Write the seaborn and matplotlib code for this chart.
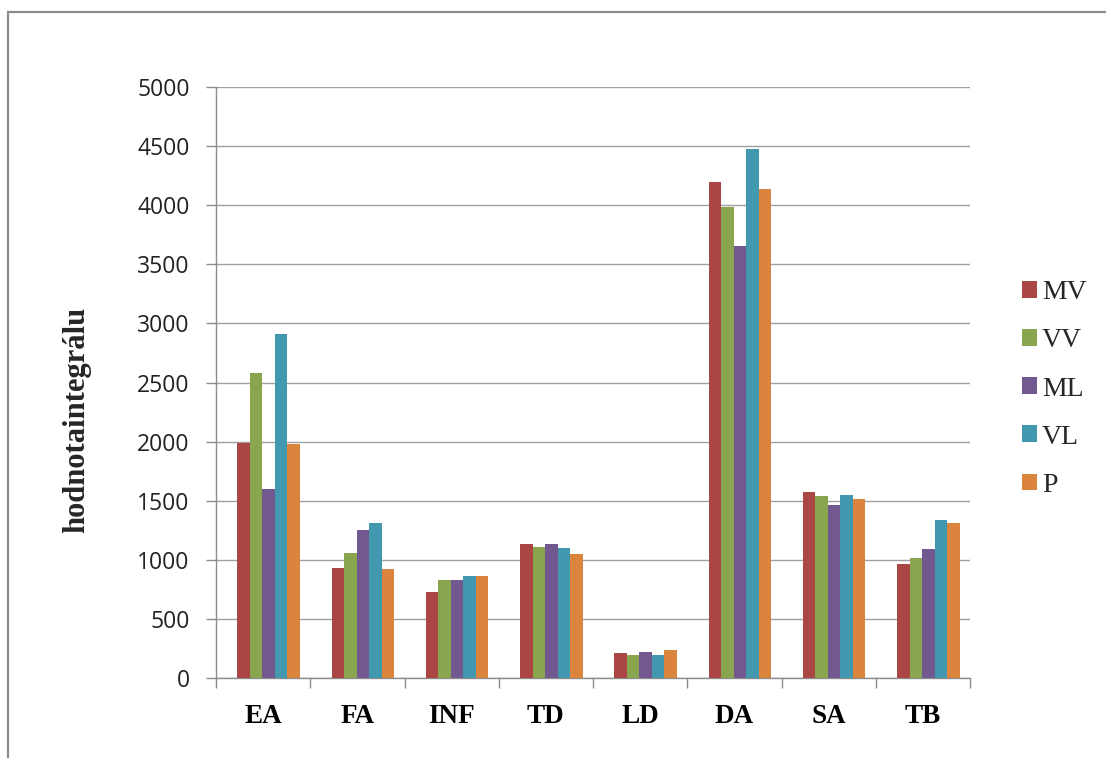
import numpy as np
import pandas as pd
import matplotlib
matplotlib.use("Agg")
import matplotlib.pyplot as plt
from matplotlib.patches import Rectangle
import seaborn as sns

categories = ["EA", "FA", "INF", "TD", "LD", "DA", "SA", "TB"]
series = ["MV", "VV", "ML", "VL", "P"]
mv = [1988, 928, 730, 1131, 210, 4198, 1571, 964]
vv = [2578, 1055, 829, 1111, 198, 3982, 1540, 1016]
ml = [1599, 1252, 829, 1131, 220, 3656, 1463, 1093]
vl = [2910, 1308, 860, 1097, 198, 4472, 1552, 1334]
p = [1977, 920, 860, 1046, 240, 4136, 1518, 1312]
y_ticks = [0, 500, 1000, 1500, 2000, 2500, 3000, 3500, 4000, 4500, 5000]
y_label = "hodnotaintegrálu"

colors = ["#AA4643", "#89A54E", "#71588F", "#4198AF", "#DB843D"]

rows = []
for name, vals in zip(series, [mv, vv, ml, vl, p]):
    for c, v in zip(categories, vals):
        rows.append({"cat": c, "series": name, "value": v})
df = pd.DataFrame(rows)

sns.set_style("white")
plt.rcParams["font.family"] = ["DejaVu Sans"]

W, H = 1106, 758
fig = plt.figure(figsize=(W / 100, H / 100), dpi=100)
ax = fig.add_axes([216 / W, 1 - 678 / H, (970 - 216) / W, (678 - 87) / H])

sns.barplot(data=df, x="cat", y="value", hue="series", order=categories,
            hue_order=series, palette=colors, width=0.664, saturation=1,
            linewidth=0, ax=ax, zorder=3)

# Excel draws the bar groups slightly right of the category centre
shift = 0.058
n = len(categories)
ax.set_ylim(0, 5000)
ax.set_xlim(-0.5 - shift, n - 0.5 - shift)
ax.set_yticks(y_ticks)
ax.set_yticklabels([str(t) for t in y_ticks], fontsize=16.5, family="Open Sans",
                   color="#222222")
ax.yaxis.grid(True, color="#A0A0A0", linewidth=1.0, zorder=0)
ax.set_axisbelow(True)

for s in ["top", "right"]:
    ax.spines[s].set_visible(False)
for s in ["left", "bottom"]:
    ax.spines[s].set_color("#8C8C8C")
    ax.spines[s].set_linewidth(1.0)

ax.tick_params(axis="y", which="major", length=7, width=1.0, color="#8C8C8C",
               pad=12, left=True, direction="out")
ax.set_xticks(np.arange(-0.5 - shift, n, 1.0), minor=True)
ax.tick_params(axis="x", which="minor", length=7, width=1.0, color="#8C8C8C",
               bottom=True, direction="out")
ax.set_xticks(np.arange(n) - shift)
ax.tick_params(axis="x", which="major", length=0, pad=19)
ax.set_xticklabels(categories, fontsize=19.5, family="Liberation Serif",
                   fontweight="bold", color="black")

ax.set_xlabel("")
ax.set_ylabel(y_label, fontsize=22, family="Liberation Serif", fontweight="bold",
              va="center")
ax.yaxis.set_label_coords((77 - 216) / (970 - 216), (678 - 420) / (678 - 87))

handles, labels = ax.get_legend_handles_labels()
ax.legend(handles, labels, loc="center left",
          bbox_to_anchor=(1022 / W, 1 - 389 / H), bbox_transform=fig.transFigure,
          frameon=False, borderpad=0, borderaxespad=0,
          handlelength=0.54, handleheight=0.54, handletextpad=0.17,
          labelspacing=0.83, prop={"family": "Liberation Serif", "size": 20})

fig.add_artist(Rectangle((8 / W, -0.1), 1.2, 1 - 12 / H + 0.1,
                         transform=fig.transFigure, fill=False,
                         edgecolor="#8C8C8C", linewidth=1.6))

fig.savefig("out.png", dpi=100)
